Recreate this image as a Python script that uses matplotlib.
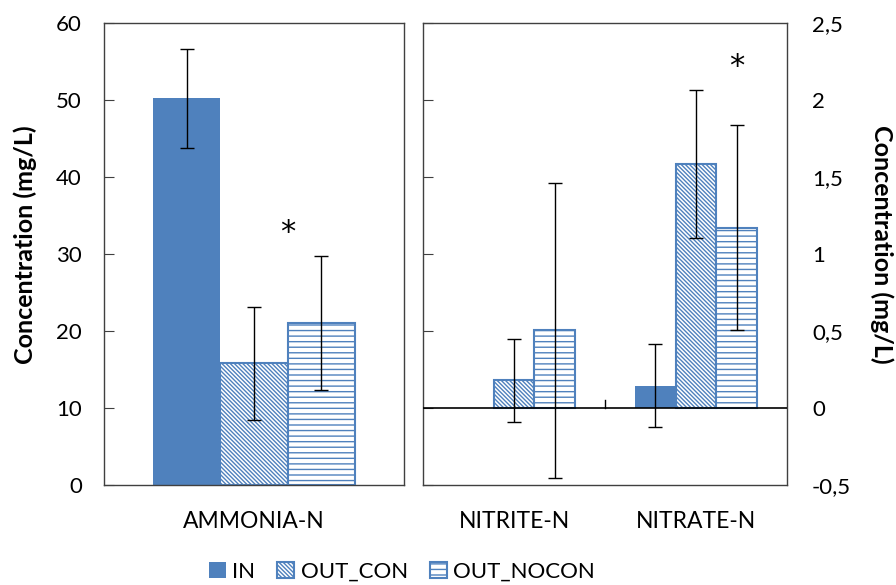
import numpy as np
import matplotlib
matplotlib.use('Agg')
import matplotlib.pyplot as plt
from matplotlib.ticker import FuncFormatter, MultipleLocator
from matplotlib.patches import Patch

plt.rcParams['font.family'] = ['Lato', 'DejaVu Sans']
plt.rcParams['hatch.linewidth'] = 1.0

series = ['IN', 'OUT_CON', 'OUT_NOCON']

# left panel (mg/L)
left_cats = ['AMMONIA-N']
left_vals = {'IN': [50.2], 'OUT_CON': [15.8], 'OUT_NOCON': [21.05]}
left_err = {'IN': [6.4], 'OUT_CON': [7.3], 'OUT_NOCON': [8.7]}

# right panel (mg/L)
right_cats = ['NITRITE-N', 'NITRATE-N']
right_vals = {'IN': [0.0, 0.145], 'OUT_CON': [0.18, 1.587], 'OUT_NOCON': [0.504, 1.17]}
right_err = {'IN': [np.nan, 0.27], 'OUT_CON': [0.27, 0.48], 'OUT_NOCON': [0.96, 0.665]}

# significance stars: (category index, offset in bar widths, y)
left_star = (0, 0.5, 34.0)
right_star = (1, 1.0, 2.28)

blue = '#4F81BD'
frame = '#404040'
w = 0.224
bs = chr(92)  # backslash

styles = {
    'IN': dict(facecolor=blue, edgecolor=blue, linewidth=0),
    'OUT_CON': dict(facecolor='white', edgecolor=blue, hatch=bs * 8, linewidth=1.5),
    'OUT_NOCON': dict(facecolor='white', edgecolor=blue, hatch='---', linewidth=1.5),
}

fig = plt.figure(figsize=(8.96, 5.85), dpi=100)
ax1 = fig.add_axes([104/896, 1-485/585, 300/896, 462/585])
ax2 = fig.add_axes([423/896, 1-485/585, 364/896, 462/585])


def draw(ax, cats, vals, errs):
    x = np.arange(len(cats))
    for i, s in enumerate(series):
        xs = x + (i - 1) * w
        v = np.array(vals[s])
        e = np.array(errs[s])
        ax.bar(xs, v, width=w, zorder=2, **styles[s])
        ok = ~np.isnan(e)
        ax.errorbar(xs[ok], v[ok], yerr=e[ok], fmt='none', ecolor='black',
                    elinewidth=1.0, capsize=5, capthick=1.0, zorder=4)
    ax.set_xticks(x)
    ax.set_xticklabels(cats, fontsize=16.5)
    ax.set_xlim(-0.5, len(cats) - 0.5)
    ax.tick_params(axis='x', length=0, pad=19)
    for sp in ax.spines.values():
        sp.set_color(frame)
        sp.set_linewidth(1.0)


draw(ax1, left_cats, left_vals, left_err)
draw(ax2, right_cats, right_vals, right_err)

ax1.set_ylim(0, 60)
ax1.yaxis.set_major_locator(MultipleLocator(10))
ax1.tick_params(axis='y', direction='in', length=7, color=frame, labelsize=16, pad=16)
ax1.set_ylabel('Concentration (mg/L)', fontsize=18, fontweight='bold', va='center')
ax1.yaxis.set_label_coords(-0.263, 0.52)

ax2.set_ylim(-0.5, 2.5)
ax2.yaxis.set_major_locator(MultipleLocator(0.5))
ax2.yaxis.set_major_formatter(FuncFormatter(lambda v, p: ('%g' % v).replace('.', ',')))
ax2.tick_params(axis='y', direction='in', length=7, color=frame, left=True, right=False,
                labelleft=False, labelright=True, labelsize=16, pad=18)
ax2.yaxis.set_label_position('right')
ax2.set_ylabel('Concentration (mg/L)', fontsize=18, fontweight='bold', rotation=-90, va='center')
ax2.yaxis.set_label_coords(1.261, 0.52)

# zero line with category divider tick
ax2.axhline(0, color='black', linewidth=1.2, zorder=3)
ax2.plot([0.5, 0.5], [0, 0.05], color='black', linewidth=1.0, zorder=3)

for ax, (ci, off, y) in [(ax1, left_star), (ax2, right_star)]:
    ax.annotate('*', xy=(ci + off * w, y), xytext=(0, -13), textcoords='offset points',
                fontsize=22, ha='center', va='baseline', family='DejaVu Sans')

handles = [Patch(**styles[s], label=s) for s in series]
fig.legend(handles=handles, loc='center', bbox_to_anchor=(402/896, 1-572/585), ncol=3,
           frameon=False, fontsize=16, handlelength=0.75, handleheight=0.75,
           handletextpad=0.3, columnspacing=1.0)

fig.savefig('out.png', dpi=100)
